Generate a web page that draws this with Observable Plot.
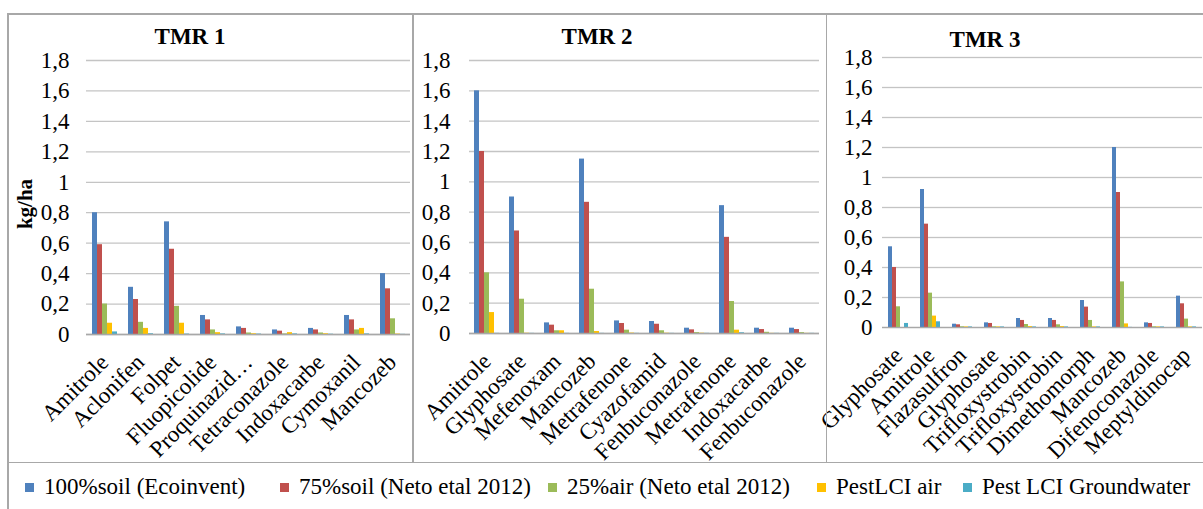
<!DOCTYPE html>
<html><head><meta charset="utf-8">
<script src="https://cdn.jsdelivr.net/npm/d3@7"></script>
<script src="https://cdn.jsdelivr.net/npm/@observablehq/plot@0.6"></script>
<style>
body{margin:0;background:#fff;}
#chart{position:relative;width:1203px;height:509px;overflow:hidden;font-family:"Liberation Serif",Tinos,"DejaVu Serif",serif;background:#fff;color:#000;}
.bline{position:absolute;background:#a8a8a8;}
.title{position:absolute;font-weight:bold;font-size:23px;transform:translate(-50%,-50%);white-space:nowrap;}
.ylab{position:absolute;font-weight:bold;font-size:21px;transform:translate(-50%,-50%) rotate(-90deg);white-space:nowrap;}
.item{position:absolute;top:474px;display:flex;align-items:center;font-size:23px;white-space:nowrap;}
.sw{width:9px;height:9px;margin-right:10px;}
</style></head>
<body>
<div id="chart"></div>
<script>
const seriesNames = ["100%soil (Ecoinvent)", "75%soil (Neto etal 2012)", "25%air (Neto etal 2012)", "PestLCI air", "Pest LCI Groundwater"];
const seriesColors = ["#4F81BD", "#C0504D", "#9BBB59", "#FFC000", "#4BACC6"];
const yTicks = [0, 0.2, 0.4, 0.6, 0.8, 1, 1.2, 1.4, 1.6, 1.8];

const tmr1Categories = ["Amitrole", "Aclonifen", "Folpet", "Fluopicolide", "Proquinazid…", "Tetraconazole", "Indoxacarbe", "Cymoxanil", "Mancozeb"];
const tmr1Soil100 = [0.80, 0.31, 0.74, 0.125, 0.05, 0.03, 0.04, 0.125, 0.40];
const tmr1Soil75 = [0.59, 0.23, 0.56, 0.096, 0.04, 0.022, 0.03, 0.096, 0.30];
const tmr1Air25 = [0.20, 0.08, 0.185, 0.03, 0.01, 0.004, 0.01, 0.03, 0.103];
const tmr1PestAir = [0.074, 0.04, 0.074, 0.012, 0.005, 0.012, 0.005, 0.04, 0.003];
const tmr1PestGw = [0.017, 0.005, 0.003, 0.004, 0.003, 0.004, 0.002, 0.004, 0.001];

const tmr2Categories = ["Amitrole", "Glyphosate", "Mefenoxam", "Mancozeb", "Metrafenone", "Cyazofamid", "Fenbuconazole", "Metrafenone", "Indoxacarbe", "Fenbuconazole"];
const tmr2Soil100 = [1.60, 0.90, 0.07, 1.15, 0.083, 0.079, 0.035, 0.843, 0.035, 0.035];
const tmr2Soil75 = [1.20, 0.676, 0.055, 0.865, 0.066, 0.061, 0.024, 0.634, 0.026, 0.026];
const tmr2Air25 = [0.40, 0.226, 0.018, 0.292, 0.022, 0.018, 0.006, 0.211, 0.008, 0.006];
const tmr2PestAir = [0.138, 0.002, 0.018, 0.013, 0.003, 0.002, 0.002, 0.022, 0.001, 0.001];
const tmr2PestGw = [0.001, 0.001, 0.001, 0.001, 0.001, 0.001, 0.001, 0.005, 0.001, 0.001];

const tmr3Categories = ["Glyphosate", "Amitrole", "Flazasulfron", "Glyphosate", "Trifloxystrobin", "Trifloxystrobin", "Dimethomorph", "Mancozeb", "Difenoconazole", "Meptyldinocap"];
const tmr3Soil100 = [0.538, 0.92, 0.022, 0.031, 0.06, 0.06, 0.18, 1.20, 0.031, 0.209];
const tmr3Soil75 = [0.40, 0.689, 0.018, 0.027, 0.047, 0.047, 0.136, 0.90, 0.027, 0.158];
const tmr3Air25 = [0.138, 0.229, 0.005, 0.005, 0.02, 0.018, 0.047, 0.304, 0.005, 0.056];
const tmr3PestAir = [0, 0.076, 0.004, 0.004, 0.006, 0.006, 0.004, 0.024, 0.004, 0.004];
const tmr3PestGw = [0.027, 0.038, 0.004, 0.004, 0.004, 0.004, 0.004, 0.001, 0.004, 0.004];

const FONT = '"Liberation Serif", Tinos, "DejaVu Serif", serif';
const chart = document.getElementById("chart");
const fmt = d => String(+d.toFixed(1)).replace(".", ",");

function makeRows(series) {
  const rows = [];
  series[0].forEach((_, i) => series.forEach((arr, s) => rows.push({idx: i, series: seriesNames[s], value: arr[i]})));
  return rows;
}

function panel(cats, series, o) {
  const rows = makeRows(series);
  const svg = Plot.plot({
    width: o.width, height: 449,
    marginLeft: o.ml, marginRight: o.mr, marginTop: o.mt, marginBottom: o.mb,
    style: {fontFamily: FONT, fontSize: "22px", color: "#000", background: "transparent", overflow: "visible"},
    fx: {domain: d3.range(cats.length), paddingInner: 0, paddingOuter: 0},
    x: {domain: seriesNames, axis: null, paddingInner: 0, paddingOuter: 0.75},
    y: {domain: [0, 1.8]},
    color: {domain: seriesNames, range: seriesColors},
    marks: [
      Plot.gridY(yTicks, {stroke: "#c4c4c4", strokeOpacity: 1, strokeWidth: 1.3}),
      Plot.axisY(yTicks, {tickFormat: fmt, tickSize: 0, tickPadding: o.tp, label: null, fontSize: 23}),
      Plot.axisFx({anchor: "bottom", tickFormat: i => cats[i], tickRotate: -45, tickSize: 0, tickPadding: 14, dy: 10, label: null, fontSize: 23}),
      Plot.barY(rows, {fx: "idx", x: "series", y: "value", fill: "series"}),
      Plot.ruleY([0], {stroke: "#a8a8a8", strokeWidth: 1.3}),
      Plot.axisY({ticks: [], tickSize: 0, label: null, line: true, stroke: "#a8a8a8", strokeWidth: 1.3})
    ]
  });
  svg.style.left = o.left + "px";
  svg.style.position = "absolute";
  svg.style.top = "13px";
  svg.style.fontFamily = FONT;
  chart.appendChild(svg);
}

panel(tmr1Categories, [tmr1Soil100, tmr1Soil75, tmr1Air25, tmr1PestAir, tmr1PestGw], {left: 8, width: 405, ml: 77, mr: 3, mt: 47, mb: 128, tp: 17});
panel(tmr2Categories, [tmr2Soil100, tmr2Soil75, tmr2Air25, tmr2PestAir, tmr2PestGw], {left: 413, width: 413, ml: 54, mr: 5, mt: 47, mb: 129, tp: 19});
panel(tmr3Categories, [tmr3Soil100, tmr3Soil75, tmr3Air25, tmr3PestAir, tmr3PestGw], {left: 826, width: 377, ml: 54, mr: 0, mt: 44, mb: 135, tp: 10});

function addLine(x, y, w, h) {
  const d = document.createElement("div");
  d.className = "bline";
  Object.assign(d.style, {left: x + "px", top: y + "px", width: w + "px", height: h + "px"});
  chart.appendChild(d);
}
addLine(7, 13, 1196, 1.5);
addLine(7, 13, 1.5, 496);
addLine(412, 13, 1.5, 449);
addLine(825.5, 13, 1.5, 449);
addLine(7, 461.5, 1196, 1.5);

[["TMR 1", 190, 37], ["TMR 2", 597, 37], ["TMR 3", 985, 40]].forEach(([t, x, y]) => {
  const d = document.createElement("div");
  d.className = "title";
  d.textContent = t;
  d.style.left = x + "px"; d.style.top = y + "px";
  chart.appendChild(d);
});
const yl = document.createElement("div");
yl.className = "ylab"; yl.textContent = "kg/ha";
yl.style.left = "25px"; yl.style.top = "204px";
chart.appendChild(yl);

const legendLefts = [25, 280, 548, 817, 963];
seriesNames.forEach((n, i) => {
  const it = document.createElement("div"); it.className = "item";
  it.style.left = legendLefts[i] + "px";
  const sw = document.createElement("div"); sw.className = "sw"; sw.style.background = seriesColors[i];
  const tx = document.createElement("span"); tx.textContent = n;
  it.appendChild(sw); it.appendChild(tx); chart.appendChild(it);
});
</script>
</body></html>
